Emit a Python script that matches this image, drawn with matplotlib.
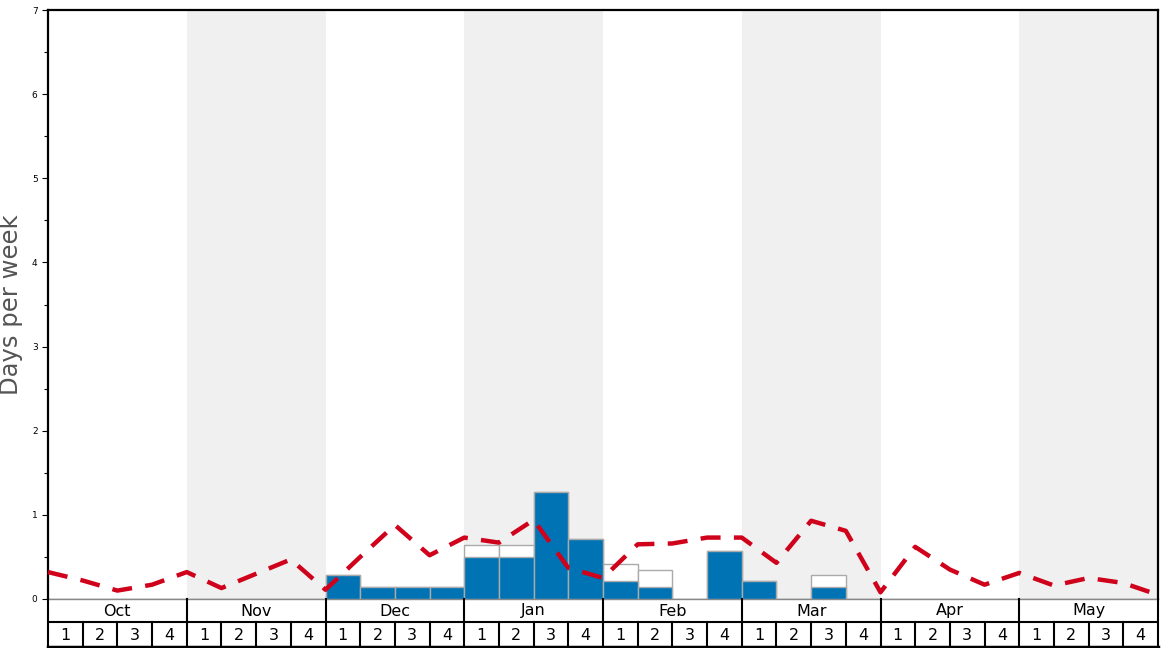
import numpy as np
import matplotlib.pyplot as plt
from matplotlib.ticker import MultipleLocator

# data
months = ['Oct', 'Nov', 'Dec', 'Jan', 'Feb', 'Mar', 'Apr', 'May']
weeks = ['1', '2', '3', '4']

# snow days per week (blue) and total incl. forecast/unconfirmed (white top)
snow_days = [0, 0, 0, 0, 0, 0, 0, 0,
             0.285, 0.14, 0.14, 0.14,
             0.5, 0.5, 1.27, 0.71,
             0.21, 0.14, 0, 0.57,
             0.21, 0, 0.14, 0,
             0, 0, 0, 0, 0, 0, 0, 0]
total_days = [0, 0, 0, 0, 0, 0, 0, 0,
              0.285, 0.14, 0.14, 0.14,
              0.64, 0.64, 1.27, 0.71,
              0.42, 0.35, 0, 0.57,
              0.21, 0, 0.28, 0,
              0, 0, 0, 0, 0, 0, 0, 0]
# long-term average, sampled at week boundaries
average = [0.32, 0.22, 0.10, 0.17, 0.32, 0.13, 0.30, 0.47,
           0.11, 0.50, 0.88, 0.52, 0.73, 0.67, 0.94, 0.37,
           0.25, 0.65, 0.66, 0.73, 0.73, 0.43, 0.93, 0.81,
           0.08, 0.62, 0.35, 0.17, 0.31, 0.16, 0.25, 0.19, 0.05]

n = len(months) * len(weeks)
x = np.arange(n)

fig = plt.figure(figsize=(11.68, 6.48), dpi=100)
ax = fig.add_axes([48/1168, 49/648, 1110/1168, 589/648])

# alternate month shading
for i in range(len(months)):
    if i % 2 == 1:
        ax.axvspan(i*4, i*4 + 4, color='#f0f0f0', lw=0, zorder=0)

ax.bar(x, total_days, width=1, align='edge', color='white',
       edgecolor='#aaaaaa', linewidth=1, zorder=2)
ax.bar(x, snow_days, width=1, align='edge', color='#0073b4',
       edgecolor='#aaaaaa', linewidth=1, zorder=3)
ax.plot(np.arange(n + 1), average, color='#d0021b', lw=3.2,
        dashes=(4.5, 3), zorder=4, clip_on=False)

ax.set_xlim(0, n)
ax.set_ylim(0, 7)
ax.set_xticks([])
ax.yaxis.set_major_locator(MultipleLocator(1))
ax.yaxis.set_minor_locator(MultipleLocator(0.5))
ax.tick_params(axis='y', which='major', labelsize=6.5, length=4, width=0.8)
ax.tick_params(axis='y', which='minor', length=3, width=0.8)
ax.set_ylabel('Days per week', fontsize=17.5, color='#555555')
ax.yaxis.set_label_coords(-0.0225, 0.5)
for s in ['left', 'top', 'right']:
    ax.spines[s].set_linewidth(1.6)
ax.spines['bottom'].set_color('#888888')
ax.spines['bottom'].set_linewidth(1)

# month / week table below
tb = fig.add_axes([48/1168, 1/648, 1110/1168, 48/648])
tb.set_xlim(0, n)
tb.set_ylim(0, 2)
tb.axis('off')
tb.plot([0, n], [1.04, 1.04], color='black', lw=1.5)
tb.plot([0, n], [0, 0], color='black', lw=2.5, clip_on=False)
for i in range(len(months) + 1):
    tb.plot([i*4, i*4], [0, 2], color='black', lw=1.5, clip_on=False)
for i, m in enumerate(months):
    tb.text(i*4 + 2, 1.5, m, ha='center', va='center', fontsize=11.5)
    for j, w in enumerate(weeks):
        k = i*4 + j
        if j > 0:
            tb.plot([k, k], [0, 1.04], color='black', lw=1.5)
        tb.text(k + 0.5, 0.5, w, ha='center', va='center', fontsize=11.5)

fig.savefig('out.png', dpi=100)
